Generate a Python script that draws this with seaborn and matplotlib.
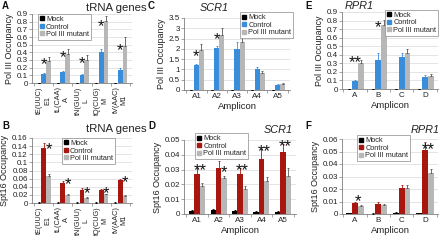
import numpy as np
import pandas as pd
import matplotlib
matplotlib.use("Agg")
import matplotlib.pyplot as plt
import seaborn as sns
from matplotlib.lines import Line2D
from matplotlib.ticker import MultipleLocator, FuncFormatter, FixedLocator

sns.set_theme(style="white")
plt.rcParams['font.family'] = ['Liberation Sans', 'DejaVu Sans']

# ---------------- data ----------------
series = ["Mock", "Control", "Pol III mutant"]
trna_labels = ["tE(UUC)\nE1", "tL(CAA)\nA", "tN(GUU)\nL", "tQ(CUG)\nM", "tV(AAC)\nM1"]
scr1_labels = ["A1", "A2", "A3", "A4", "A5"]
rpr1_labels = ["A", "B", "C", "D"]

# A: Pol III occupancy, tRNA genes
a_mock = [0.002, 0.002, 0.002, 0.002, 0.002]
a_ctrl = [0.12, 0.14, 0.10, 0.40, 0.17]
a_mut = [0.29, 0.38, 0.30, 0.81, 0.48]
a_emock = [0.0, 0.0, 0.0, 0.0, 0.0]
a_ectrl = [0.01, 0.02, 0.02, 0.04, 0.02]
a_emut = [0.05, 0.07, 0.07, 0.07, 0.12]

# B: Spt16 occupancy, tRNA genes
b_mock = [0.001, 0.001, 0.001, 0.001, 0.001]
b_ctrl = [0.135, 0.050, 0.032, 0.031, 0.057]
b_mut = [0.066, 0.019, 0.013, 0.021, 0.017]
b_emock = [0.0005, 0.0005, 0.0005, 0.0005, 0.0005]
b_ectrl = [0.012, 0.005, 0.004, 0.003, 0.002]
b_emut = [0.005, 0.002, 0.002, 0.002, 0.003]

# C: Pol III occupancy, SCR1
c_mock = [0.0, 0.0, 0.0, 0.0, 0.0]
c_ctrl = [1.20, 2.02, 1.97, 1.03, 0.25]
c_mut = [1.95, 2.68, 2.35, 0.85, 0.27]
c_emock = [0.0, 0.0, 0.0, 0.0, 0.0]
c_ectrl = [0.08, 0.10, 0.35, 0.10, 0.04]
c_emut = [0.30, 0.35, 0.45, 0.05, 0.05]

# D: Spt16 occupancy, SCR1
d_mock = [0.0020, 0.0025, 0.0018, 0.0012, 0.0015]
d_ctrl = [0.027, 0.031, 0.027, 0.037, 0.042]
d_mut = [0.019, 0.024, 0.017, 0.022, 0.026]
d_emock = [0.001, 0.001, 0.0008, 0.0008, 0.0008]
d_ectrl = [0.004, 0.005, 0.004, 0.007, 0.005]
d_emut = [0.002, 0.002, 0.002, 0.003, 0.005]

# E: Pol III occupancy, RPR1
e_mock = [0.0, 0.0, 0.0, 0.0]
e_ctrl = [0.09, 0.34, 0.37, 0.14]
e_mut = [0.30, 0.75, 0.42, 0.15]
e_emock = [0.0, 0.0, 0.0, 0.0]
e_ectrl = [0.02, 0.08, 0.05, 0.02]
e_emut = [0.04, 0.06, 0.05, 0.02]

# F: Spt16 occupancy, RPR1
f_mock = [0.0005, 0.0003, 0.0010, 0.0005]
f_ctrl = [0.009, 0.008, 0.021, 0.051]
f_mut = [0.0065, 0.007, 0.021, 0.033]
f_emock = [0.0002, 0.0002, 0.0003, 0.0002]
f_ectrl = [0.001, 0.002, 0.002, 0.007]
f_emut = [0.001, 0.001, 0.002, 0.003]

# significance marks: (group index, anchor bar, text, y value of the mark)
a_stars = [(0, "ctrl", "*", 0.30), (1, "ctrl", "*", 0.39), (2, "ctrl", "*", 0.31),
           (3, "ctrl", "*", 0.80), (4, "ctrl", "*", 0.49)]
b_stars = [(0, "mut", "*", 0.143), (1, "mut", "*", 0.056), (2, "mut", "*", 0.036),
           (3, "mut", "*", 0.035), (4, "mut", "*", 0.061)]
c_stars = [(0, "ctrl", "*", 1.85), (1, "ctrl", "*", 2.70)]
d_stars = [(0, "mid", "**", 0.0325), (1, "mut", "*", 0.0315), (2, "mid", "**", 0.0325),
           (3, "mid", "**", 0.0455), (4, "mid", "**", 0.0485)]
e_stars = [(0, "ctrl", "**", 0.37), (1, "ctrl", "*", 0.77)]
f_stars = [(0, "mid", "*", 0.0135), (3, "mid", "**", 0.0555)]

BLUE = "#3a8ddb"
RED = "#a8170f"
GRAY = "#b7b7b7"
BLACK = "#000000"

W, H = 440, 240
fig = plt.figure(figsize=(W / 100, H / 100), dpi=100)


def add_axes(l, r, t, b):
    return fig.add_axes([l / W, 1 - b / H, (r - l) / W, (b - t) / H])


def fmt(v, pos):
    return f"{v:g}"


def panel(ax, cats, mock, ctrl, mut, emock, ectrl, emut, ccol, ymax, ystep,
          stars, leg_anchor, leg_loc, ylabel, xlabel, rot=False):
    n = len(cats)
    df = pd.DataFrame({
        "cat": cats * 3,
        "series": [s for s in series for _ in range(n)],
        "value": list(mock) + list(ctrl) + list(mut),
    })
    cols = [BLACK, ccol, GRAY]
    sns.barplot(data=df, x="cat", y="value", hue="series", hue_order=series,
                order=cats, palette=cols, width=0.75, gap=0, errorbar=None,
                legend=False, ax=ax, saturation=1, zorder=3, linewidth=0)
    centers = {}
    for key, cont, err, col in zip(["mock", "ctrl", "mut"], ax.containers,
                                   [emock, ectrl, emut], cols):
        xs = np.array([b.get_x() + b.get_width() / 2 for b in cont])
        hs = np.array([b.get_height() for b in cont])
        centers[key] = xs
        ecol = "#555555" if key == "mut" else col
        ax.errorbar(xs, hs, yerr=[np.zeros(n), np.array(err)], fmt="none",
                    ecolor=ecol, elinewidth=0.6, capsize=1.0, capthick=0.6,
                    zorder=4)
    centers["mid"] = (centers["ctrl"] + centers["mut"]) / 2
    # convert data y of the mark's centre into a text anchor (asterisk sits high in its box)
    for gi, anchor, txt, yv in stars:
        ax.annotate(txt, xy=(centers[anchor][gi], yv), xytext=(0, -3.5),
                    textcoords="offset points", ha="center", va="center",
                    fontsize=12, zorder=6, annotation_clip=False,
                    color="#111111")
    ax.set_ylim(0, ymax)
    ax.yaxis.set_major_locator(MultipleLocator(ystep))
    ax.yaxis.set_major_formatter(FuncFormatter(fmt))
    ax.grid(axis="y", color="#d9d9d9", linewidth=0.5, zorder=0)
    ax.set_axisbelow(True)
    for s in ["top", "right"]:
        ax.spines[s].set_visible(False)
    for s in ["left", "bottom"]:
        ax.spines[s].set_color("#7f7f7f")
        ax.spines[s].set_linewidth(0.6)
    ax.tick_params(axis="y", which="major", length=2, width=0.5, pad=1,
                   labelsize=5.8, colors="#7f7f7f", labelcolor="#222222", left=True)
    ax.tick_params(axis="x", which="major", length=0, pad=2.5, labelsize=5.8,
                   labelcolor="#222222")
    ax.xaxis.set_minor_locator(FixedLocator(np.arange(-0.5, n, 1.0)))
    ax.tick_params(axis="x", which="minor", length=2, width=0.5,
                   color="#7f7f7f", bottom=True)
    if rot:
        for lab in ax.get_xticklabels():
            lab.set_rotation(90)
            lab.set_multialignment("center")
            lab.set_fontsize(5.2)
    ax.set_ylabel(ylabel, fontsize=6.5, labelpad=2, color="#222222")
    ax.set_xlabel(xlabel, fontsize=6.8, labelpad=1, color="#222222")
    handles = [Line2D([], [], marker="s", ls="", color=c, markersize=2.6)
               for c in cols]
    leg = ax.legend(handles, series, loc=leg_loc, bbox_to_anchor=leg_anchor,
                    fontsize=5.3, frameon=True, fancybox=False, borderpad=0.25,
                    handlelength=0.6, handletextpad=0.25, labelspacing=0.05,
                    borderaxespad=0, framealpha=1)
    leg.get_frame().set_edgecolor("#8a8a8a")
    leg.get_frame().set_linewidth(0.5)
    leg.set_zorder(7)


axA = add_axes(32, 132, 14, 83)
panel(axA, trna_labels, a_mock, a_ctrl, a_mut, a_emock, a_ectrl, a_emut, BLUE,
      0.9, 0.1, a_stars, (0.06, 1.0), "upper left", "Pol III Occupancy", "", rot=True)

axB = add_axes(32, 132, 138, 203)
panel(axB, trna_labels, b_mock, b_ctrl, b_mut, b_emock, b_ectrl, b_emut, RED,
      0.16, 0.02, b_stars, (0.30, 1.0), "upper left", "Spt16 Occupancy", "", rot=True)

axC = add_axes(184, 290, 18, 90)
panel(axC, scr1_labels, c_mock, c_ctrl, c_mut, c_emock, c_ectrl, c_emut, BLUE,
      3.5, 0.5, c_stars, (1.03, 1.08), "upper right", "Pol III Occupancy", "Amplicon")

axD = add_axes(184, 296, 140, 214)
panel(axD, scr1_labels, d_mock, d_ctrl, d_mut, d_emock, d_ectrl, d_emut, RED,
      0.05, 0.01, d_stars, (0.10, 1.09), "upper left", "Spt16 Occupancy", "Amplicon")

axE = add_axes(342, 438, 12, 89)
panel(axE, rpr1_labels, e_mock, e_ctrl, e_mut, e_emock, e_ectrl, e_emut, BLUE,
      0.9, 0.1, e_stars, (1.0, 1.03), "upper right", "Pol III Occupancy", "Amplicon")

axF = add_axes(342, 438, 139, 214)
panel(axF, rpr1_labels, f_mock, f_ctrl, f_mut, f_emock, f_ectrl, f_emut, RED,
      0.06, 0.01, f_stars, (0.16, 1.05), "upper left", "Spt16 Occupancy", "Amplicon")


# titles and panel letters (figure pixel coordinates)
def ftext(x, y, s, **kw):
    fig.text(x / W, 1 - y / H, s, **kw)


ftext(147, 8, "tRNA genes", ha="right", va="center", fontsize=8.2, color="#222222")
ftext(147, 129, "tRNA genes", ha="right", va="center", fontsize=8.2, color="#222222")
ftext(214, 8, "SCR1", ha="center", va="center", fontsize=7.8, style="italic", color="#222222")
ftext(293, 130, "SCR1", ha="right", va="center", fontsize=7.8, style="italic", color="#222222")
ftext(359, 6, "RPR1", ha="center", va="center", fontsize=7.8, style="italic", color="#222222")
ftext(440, 130, "RPR1", ha="right", va="center", fontsize=7.8, style="italic", color="#222222")

for x, y, s in [(2, 6, "A"), (2, 126, "B"), (148, 6, "C"), (148, 126, "D"),
                (305, 6, "E"), (305, 126, "F")]:
    ftext(x, y, s, ha="left", va="center", fontsize=7, fontweight="bold", color="#111111")

fig.savefig("out.png", dpi=100, facecolor="white")
